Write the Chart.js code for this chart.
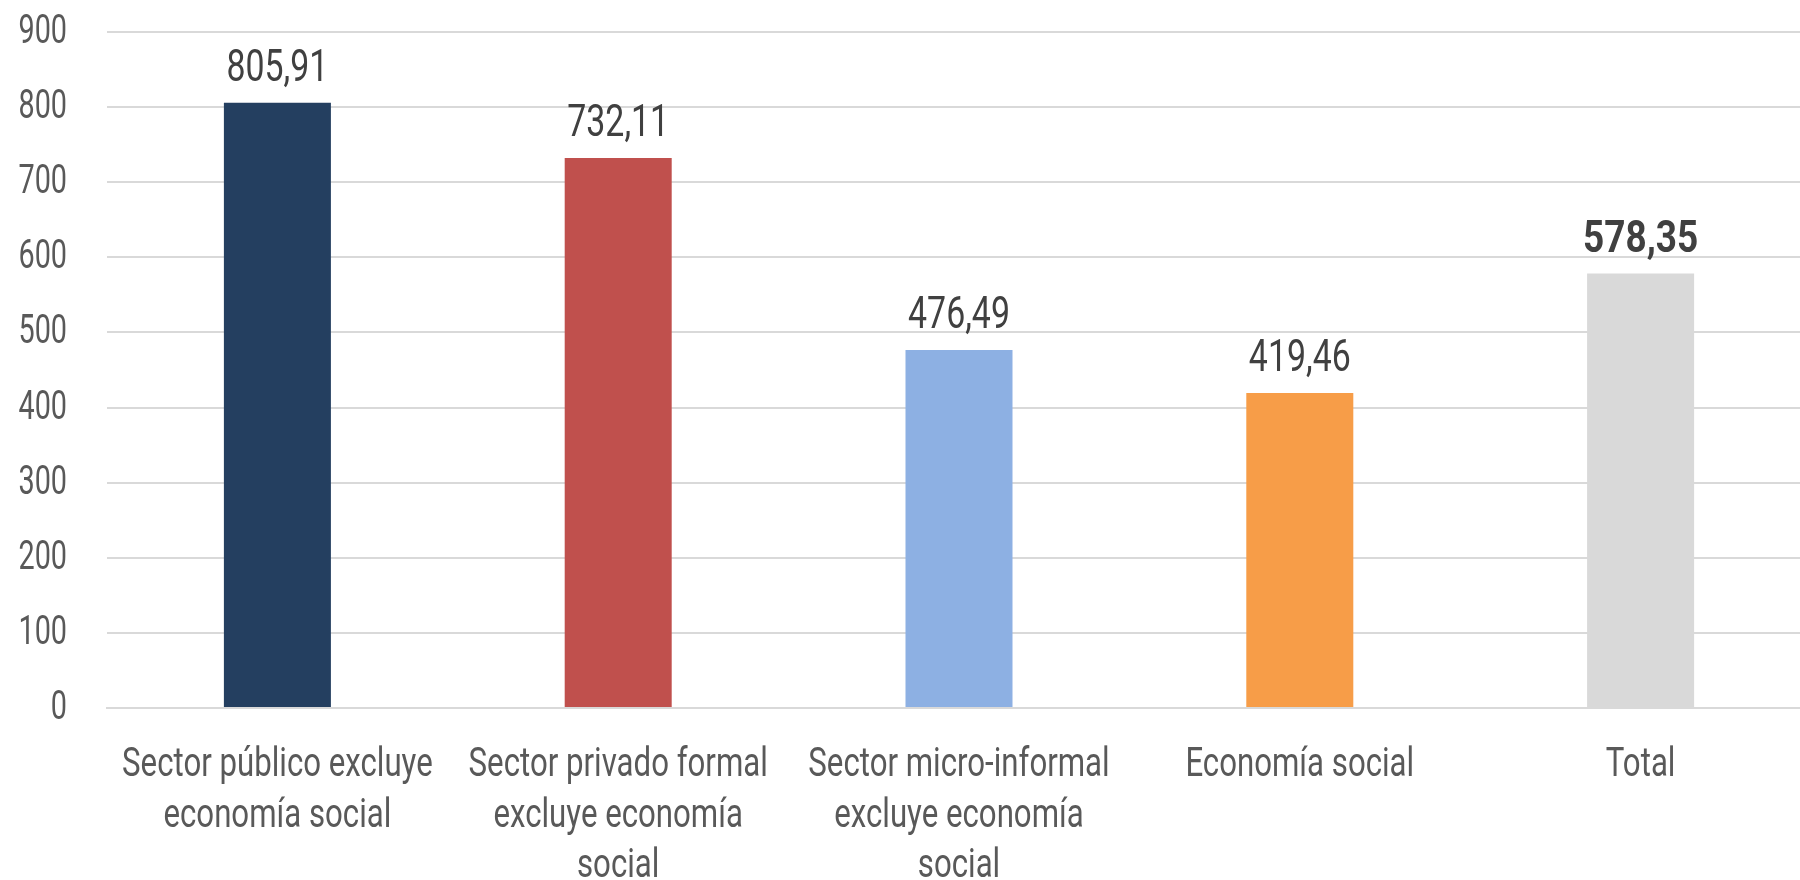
<!DOCTYPE html>
<html>
<head>
<meta charset="utf-8">
<script src="https://cdn.jsdelivr.net/npm/chart.js@4"></script>
<style>
  html, body { margin: 0; padding: 0; background: #fff; overflow: hidden; }
  /* plot area runs a little past the right edge, like the cropped original */
  #wrap { width: 1811px; height: 880px; }
</style>
</head>
<body>
<div id="wrap"><canvas id="chart"></canvas></div>
<script>
// Values
const sectorLabels = [
  ['Sector público excluye', 'economía social'],
  ['Sector privado formal', 'excluye economía', 'social'],
  ['Sector micro-informal', 'excluye economía', 'social'],
  'Economía social',
  'Total'
];
const sectorValues = [805.91, 732.11, 476.49, 419.46, 578.35];
const barColors    = ['#243F60', '#C0504D', '#8DB0E3', '#F79D48', '#D9D9D9'];
const yTicks       = [0, 100, 200, 300, 400, 500, 600, 700, 800, 900];

const FONT = "Roboto, 'DejaVu Sans', sans-serif";

// The original uses a tall condensed face; squeeze the text horizontally.
const drawSqueezed = (ctx, text, x, y, sx) => {
  ctx.save();
  ctx.translate(x, y);
  ctx.scale(sx, 1);
  ctx.fillText(text, 0, 0);
  ctx.restore();
};

// Axis labels and value labels, positioned from the chart's own scales.
const condensedText = {
  id: 'condensedText',
  afterDraw(chart) {
    const { ctx, chartArea } = chart;
    const xScale = chart.scales.x;
    const yScale = chart.scales.y;
    ctx.save();

    // y tick labels
    ctx.font = '40px ' + FONT;
    ctx.fillStyle = '#595959';
    ctx.textAlign = 'right';
    ctx.textBaseline = 'middle';
    yScale.ticks.forEach(tick => {
      drawSqueezed(ctx, String(tick.value), chartArea.left - 40, yScale.getPixelForValue(tick.value) + 1, 0.72);
    });

    // category labels (multi-line)
    ctx.textAlign = 'center';
    ctx.textBaseline = 'alphabetic';
    sectorLabels.forEach((label, i) => {
      const lines = Array.isArray(label) ? label : [label];
      const x = xScale.getPixelForTick(i);
      lines.forEach((line, j) => {
        drawSqueezed(ctx, line, x, chartArea.bottom + 68 + j * 50.5, 0.78);
      });
    });

    // value labels above bars; Total is bold
    const meta = chart.getDatasetMeta(0);
    ctx.fillStyle = '#404040';
    meta.data.forEach((bar, i) => {
      const isTotal = i === sectorValues.length - 1;
      ctx.font = (isTotal ? 'bold 44px ' : '44px ') + FONT;
      const text = sectorValues[i].toFixed(2).replace('.', ',');
      drawSqueezed(ctx, text, bar.x, bar.y - 22, isTotal ? 0.84 : 0.77);
    });

    ctx.restore();
  }
};

new Chart(document.getElementById('chart'), {
  type: 'bar',
  data: {
    labels: sectorLabels,
    datasets: [{
      data: sectorValues,
      backgroundColor: barColors,
      categoryPercentage: 1,
      barPercentage: 0.314
    }]
  },
  options: {
    responsive: true,
    maintainAspectRatio: false,
    animation: false,
    layout: { padding: { top: 32, right: 0, left: 0, bottom: 0 } },
    plugins: {
      legend: { display: false },
      tooltip: { enabled: false }
    },
    scales: {
      x: {
        grid: { display: false, drawTicks: false },
        border: { display: true, color: '#D9D9D9', width: 2 },
        ticks: { display: false },
        afterFit: (scale) => { scale.height = 172; }
      },
      y: {
        min: 0,
        max: 900,
        afterBuildTicks: (scale) => { scale.ticks = yTicks.map(v => ({ value: v })); },
        grid: { color: '#D9D9D9', lineWidth: 2, drawTicks: false },
        border: { display: false },
        ticks: { display: false },
        afterFit: (scale) => { scale.width = 107; }
      }
    }
  },
  plugins: [condensedText]
});
</script>
</body>
</html>
